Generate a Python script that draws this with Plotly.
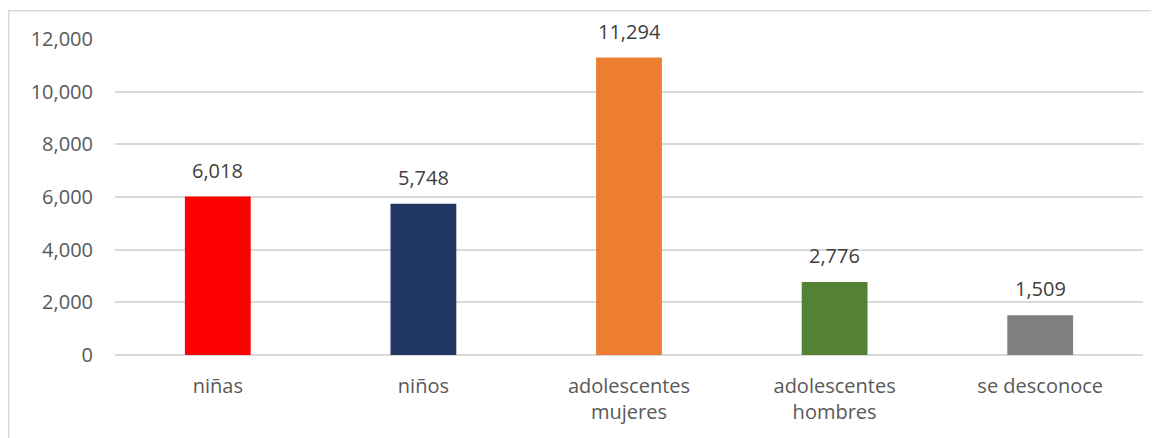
import plotly.graph_objects as go

categories = ["niñas", "niños", "adolescentes<br>mujeres", "adolescentes<br>hombres", "se desconoce"]
values = [6018, 5748, 11294, 2776, 1509]
colors = ["#FF0000", "#203864", "#ED7D31", "#548235", "#7F7F7F"]
y_ticks = [0, 2000, 4000, 6000, 8000, 10000, 12000]

W, H = 1159, 438
OFF = 8  # page body margin
L, R, T, B = 115 - OFF, 16 + OFF, 39 - OFF, 83 + OFF

fig = go.Figure()
fig.add_trace(go.Bar(
    x=categories, y=values, marker=dict(color=colors, line=dict(width=0)),
    width=0.32, hoverinfo="skip", showlegend=False,
))

for c, v in zip(categories, values):
    fig.add_annotation(
        x=c, y=v, text=f"{v:,}", showarrow=False, yanchor="bottom",
        yshift=11, font=dict(family="Open Sans", size=20, color="#404040"),
    )

pw = W - L - R
ph = H - T - B
# chart border: page x=8 -> fig x=0 ; page y=10 -> fig y=2
fig.add_shape(
    type="rect", xref="paper", yref="paper",
    x0=(0.75 - L) / pw, x1=(W + 20 - L) / pw,
    y0=(H - B - (H + 20)) / ph, y1=(H - B - 2.75) / ph,
    line=dict(color="#D9D9D9", width=1.5), fillcolor="rgba(0,0,0,0)", layer="below",
)

fig.update_layout(
    width=W, height=H,
    margin=dict(l=L, r=R, t=T, b=B),
    paper_bgcolor="white", plot_bgcolor="white",
    font=dict(family="Open Sans", size=20, color="#595959"),
    bargap=0.68,
    xaxis=dict(
        showgrid=False, showline=False, zeroline=False, ticks="",
        tickfont=dict(size=20, color="#595959"), ticklabelstandoff=17,
    ),
    yaxis=dict(
        range=[0, 12000], tickvals=y_ticks, tickformat=",",
        showgrid=True, gridcolor="#D9D9D9", gridwidth=1.5,
        zeroline=True, zerolinecolor="#D9D9D9", zerolinewidth=1.5,
        showline=False, ticks="", ticklabelstandoff=21,
        tickfont=dict(size=20, color="#595959"),
    ),
)

fig.write_html("out.html")
